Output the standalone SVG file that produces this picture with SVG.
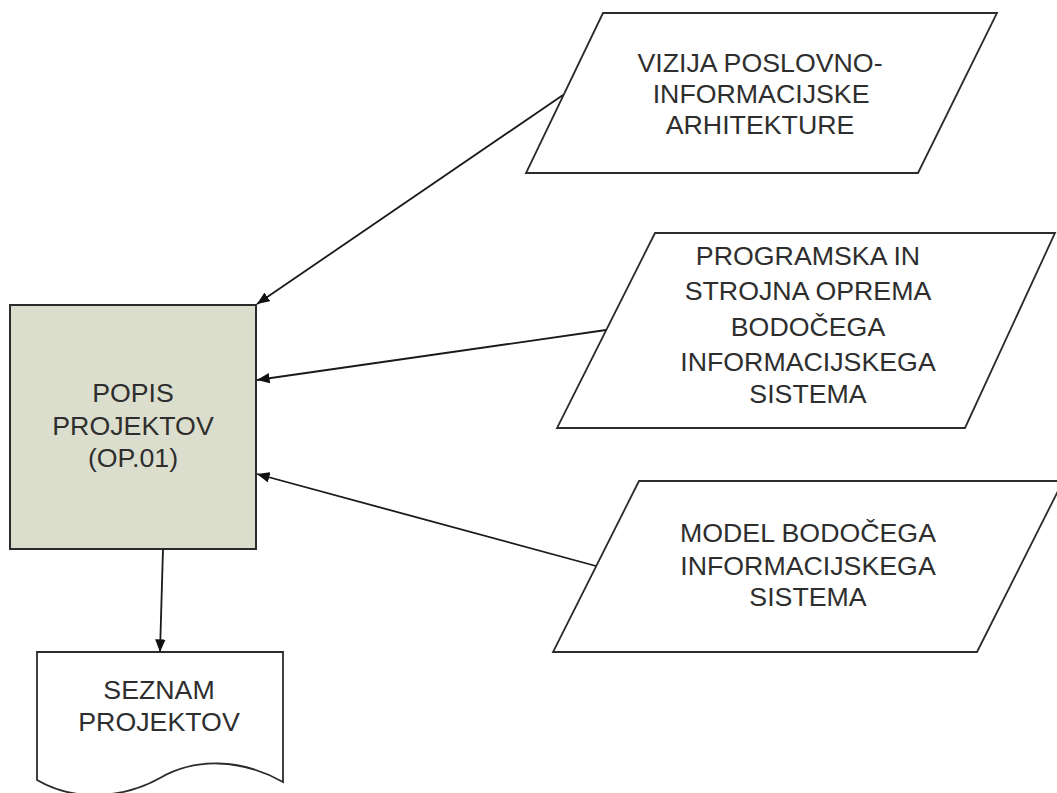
<svg xmlns="http://www.w3.org/2000/svg" width="1057" height="793" viewBox="0 0 1057 793">
  <style>
    .shape { fill: #ffffff; stroke: #2b2b2b; stroke-width: 1.8; }
    .proc { fill: #dcdecd; stroke: #2b2b2b; stroke-width: 2; }
    .lbl { font-family: "Liberation Sans", Arial, sans-serif; font-size: 25px; fill: #2e2e2e; text-anchor: middle; }
    .conn { fill: none; stroke: #1a1a1a; stroke-width: 1.8; marker-end: url(#arrow); }
  </style>
  <defs>
    <marker id="arrow" viewBox="0 0 12 10" refX="12" refY="5" markerWidth="7" markerHeight="6" markerUnits="strokeWidth" orient="auto">
      <path d="M0,0 L12,5 L0,10 Z" fill="#111111"/>
    </marker>
  </defs>
  <rect width="1057" height="793" fill="#ffffff"/>

  <!-- data inputs; labels are slightly widened around their centre line -->
  <g id="vizija">
    <polygon class="shape" points="603,13 997,13 918,173 526,173"/>
    <g transform="translate(760,0) scale(1.07,1)">
      <text class="lbl" x="0" y="72">VIZIJA POSLOVNO-</text>
      <text class="lbl" x="1" y="103">INFORMACIJSKE</text>
      <text class="lbl" x="0" y="134">ARHITEKTURE</text>
    </g>
  </g>

  <g id="oprema">
    <polygon class="shape" points="655,233 1055,233 965,428 557,428"/>
    <g transform="translate(808,0) scale(1.07,1)">
      <text class="lbl" x="0" y="265">PROGRAMSKA IN</text>
      <text class="lbl" x="0" y="300">STROJNA OPREMA</text>
      <text class="lbl" x="0" y="336">BODOČEGA</text>
      <text class="lbl" x="0" y="371">INFORMACIJSKEGA</text>
      <text class="lbl" x="0" y="403">SISTEMA</text>
    </g>
  </g>

  <g id="model">
    <polygon class="shape" points="639,481 1063,481 977,652 553,652"/>
    <g transform="translate(808,0) scale(1.07,1)">
      <text class="lbl" x="0" y="542">MODEL BODOČEGA</text>
      <text class="lbl" x="0" y="575">INFORMACIJSKEGA</text>
      <text class="lbl" x="0" y="606">SISTEMA</text>
    </g>
  </g>

  <!-- process -->
  <g id="popis">
    <rect class="proc" x="10" y="305" width="246" height="244"/>
    <g transform="translate(133,0) scale(1.07,1)">
      <text class="lbl" x="0" y="402">POPIS</text>
      <text class="lbl" x="0" y="435">PROJEKTOV</text>
      <text class="lbl" x="0" y="467">(OP.01)</text>
    </g>
  </g>

  <!-- output document -->
  <g id="seznam">
    <path class="shape" d="M37,652 H283 V782 C240,758 195,758 160,778 C130,795 80,805 37,780 Z"/>
    <g transform="translate(159,0) scale(1.07,1)">
      <text class="lbl" x="0" y="699">SEZNAM</text>
      <text class="lbl" x="0" y="731">PROJEKTOV</text>
    </g>
  </g>

  <g id="connectors">
    <line class="conn" x1="563" y1="95" x2="257" y2="304"/>
    <line class="conn" x1="606" y1="330" x2="257" y2="380"/>
    <line class="conn" x1="596" y1="566" x2="257" y2="474"/>
    <line class="conn" x1="163" y1="549" x2="160" y2="652"/>
  </g>
</svg>
